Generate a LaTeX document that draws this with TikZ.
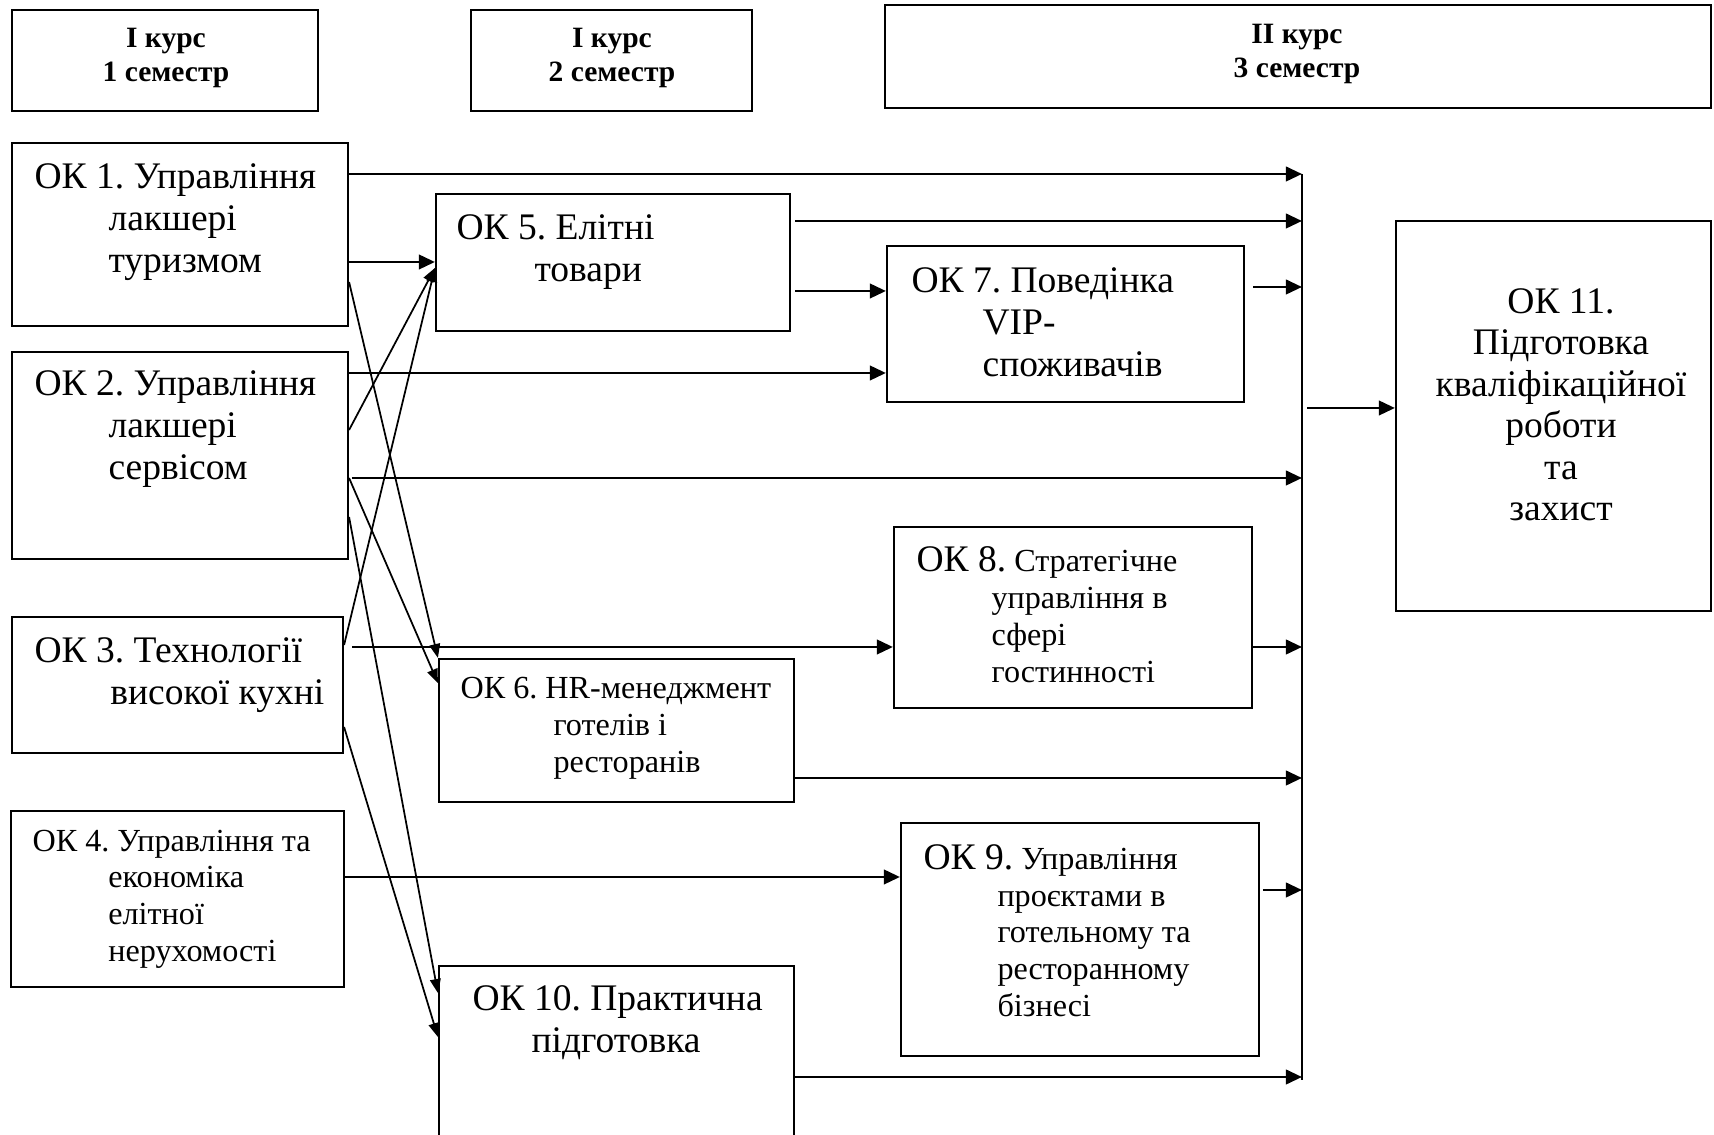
\documentclass[tikz,border=0pt]{standalone}
\usepackage{fontspec}
\setmainfont{Liberation Serif}
\usetikzlibrary{arrows.meta,fit}
\frenchspacing

\newcommand\okbig{\fontsize{14}{15.7}\selectfont}
\newcommand\okmid{\fontsize{12}{13.8}\selectfont}
\newcommand\okhead{\fontsize{11}{12.7}\selectfont\bfseries}
\newcommand\ind[1]{\hspace*{#1pt}}

\begin{document}
\begin{tikzpicture}[x=0.373pt, y=-0.373pt,
    box/.style={draw, line width=0.8pt, inner sep=0pt},
    big/.style={inner sep=0pt, anchor=base west, align=left, font=\okbig},
    mid/.style={inner sep=0pt, anchor=base west, align=left, font=\okmid},
    head/.style={inner sep=0pt, anchor=base, align=center, font=\okhead},
    arr/.style={line width=1pt, -{Triangle[length=6pt, width=5.4pt]}},
    slant/.style={line width=0.65pt, -{Triangle[length=5.2pt, width=4pt]}}]

    \useasboundingbox (0,0) rectangle (1714,1135);
    \clip (0,0) rectangle (1714,1135);

    % text nodes are placed at the baseline of their last line

    %Semester headers
    \node[box, fit={(12,10) (318,111)}] (sem1) {};
    \node[box, fit={(471,10) (752,111)}] (sem2) {};
    \node[box, fit={(885,5) (1711,108)}] (sem3) {};
    \node[head] (sem1-txt) at (166,82) {І курс\\1 семестр};
    \node[head] (sem2-txt) at (612,82) {І курс\\2 семестр};
    \node[head] (sem3-txt) at (1297,78) {ІІ курс\\3 семестр};

    %First semester
    \node[box, fit={(12,143) (348,326)}] (ok1) {};
    \node[box, fit={(12,352) (348,559)}] (ok2) {};
    \node[box, fit={(12,617) (343,753)}] (ok3) {};
    \node[box, fit={(11,811) (344,987)}] (ok4) {};
    \node[big] (ok1-txt) at (34,273) {ОК 1. Управління\\\ind{27.6}лакшері\\\ind{27.6}туризмом};
    \node[big] (ok2-txt) at (34,480) {ОК 2. Управління\\\ind{27.6}лакшері\\\ind{27.6}сервісом};
    \node[big] (ok3-txt) at (34,705) {ОК 3. Технології\\\ind{28.3}високої кухні};
    \node[mid] (ok4-txt) at (32,962) {ОК 4. Управління та\\\ind{28.3}економіка\\\ind{28.3}елітної\\\ind{28.3}нерухомості};

    %Second semester
    \node[box, fit={(436,194) (790,331)}] (ok5) {};
    \node[box, fit={(439,659) (794,802)}] (ok6) {};
    \node[box, fit={(439,966) (794,1160)}] (ok10) {};
    \node[big] (ok5-txt) at (456,282) {ОК 5. Елітні\\\ind{29.1}товари};
    \node[mid] (ok6-txt) at (460,773) {ОК 6. HR-менеджмент\\\ind{34.7}готелів і\\\ind{34.7}ресторанів};
    \node[big] (ok10-txt) at (472,1053) {ОК 10. Практична\\\ind{22}підготовка};

    %Third semester
    \node[box, fit={(887,246) (1244,402)}] (ok7) {};
    \node[box, fit={(894,527) (1252,708)}] (ok8) {};
    \node[box, fit={(901,823) (1259,1056)}] (ok9) {};
    \node[big] (ok7-txt) at (911,377) {ОК 7. Поведінка\\\ind{26.5}VIP-\\\ind{26.5}споживачів};
    \node[mid] (ok8-txt) at (916,683) {{\okbig ОК 8.} Стратегічне\\\ind{28}управління в\\\ind{28}сфері\\\ind{28}гостинності};
    \node[mid] (ok9-txt) at (923,1017) {{\okbig ОК 9.} Управління\\\ind{27.6}проєктами в\\\ind{27.6}готельному та\\\ind{27.6}ресторанному\\\ind{27.6}бізнесі};

    %Final work
    \node[box, fit={(1396,221) (1711,611)}] (ok11) {};
    \node[inner sep=0pt, anchor=base, align=center, font=\fontsize{14}{15.5}\selectfont] (ok11-txt) at (1561,521)
        {ОК 11.\\Підготовка\\кваліфікаційної\\роботи\\та\\захист};

    %Collecting line
    \coordinate (bustop) at (1302,174);
    \coordinate (busbot) at (1302,1080);
    \draw[line width=0.8pt] (bustop) -- (busbot);
    \draw[arr, shorten <=2pt] (bustop |- 0,408) -- (ok11.west |- 0,408);

    %Straight arrows
    \draw[arr] (ok1.east |- 0,174) -- (bustop |- 0,174);
    \draw[arr] (ok1.east |- 0,262) -- (ok5.west |- 0,262);
    \draw[arr, shorten <=1.5pt] (ok5.east |- 0,221) -- (bustop |- 0,221);
    \draw[arr, shorten <=1.5pt] (ok5.east |- 0,291) -- (ok7.west |- 0,291);
    \draw[arr, shorten <=3pt] (ok7.east |- 0,287) -- (bustop |- 0,287);
    \draw[arr] (ok2.east |- 0,373) -- (ok7.west |- 0,373);
    \draw[arr, shorten <=1pt] (ok2.east |- 0,478) -- (bustop |- 0,478);
    \draw[arr, shorten <=3pt] (ok3.east |- 0,647) -- (ok8.west |- 0,647);
    \draw[arr] (ok8.east |- 0,647) -- (bustop |- 0,647);
    \draw[arr] (ok6.east |- 0,778) -- (bustop |- 0,778);
    \draw[arr] (ok4.east |- 0,877) -- (ok9.west |- 0,877);
    \draw[arr, shorten <=1pt] (ok9.east |- 0,890) -- (bustop |- 0,890);
    \draw[arr] (ok10.east |- 0,1077) -- (bustop |- 0,1077);

    %Slanted arrows
    \draw[slant] (ok1.east |- 0,282) -- (ok6.north west);
    \draw[slant] (ok2.east |- 0,478) -- (ok6.west |- 0,683);
    \draw[slant] (ok2.east |- 0,430) -- (ok5.west |- 0,268);
    \draw[slant] (ok3.east |- 0,645) -- (ok5.west |- 0,268);
    \draw[slant] (ok2.east |- 0,517) -- (ok10.west |- 0,993);
    \draw[slant] (ok3.east |- 0,727) -- (ok10.west |- 0,1037);
\end{tikzpicture}
\end{document}
